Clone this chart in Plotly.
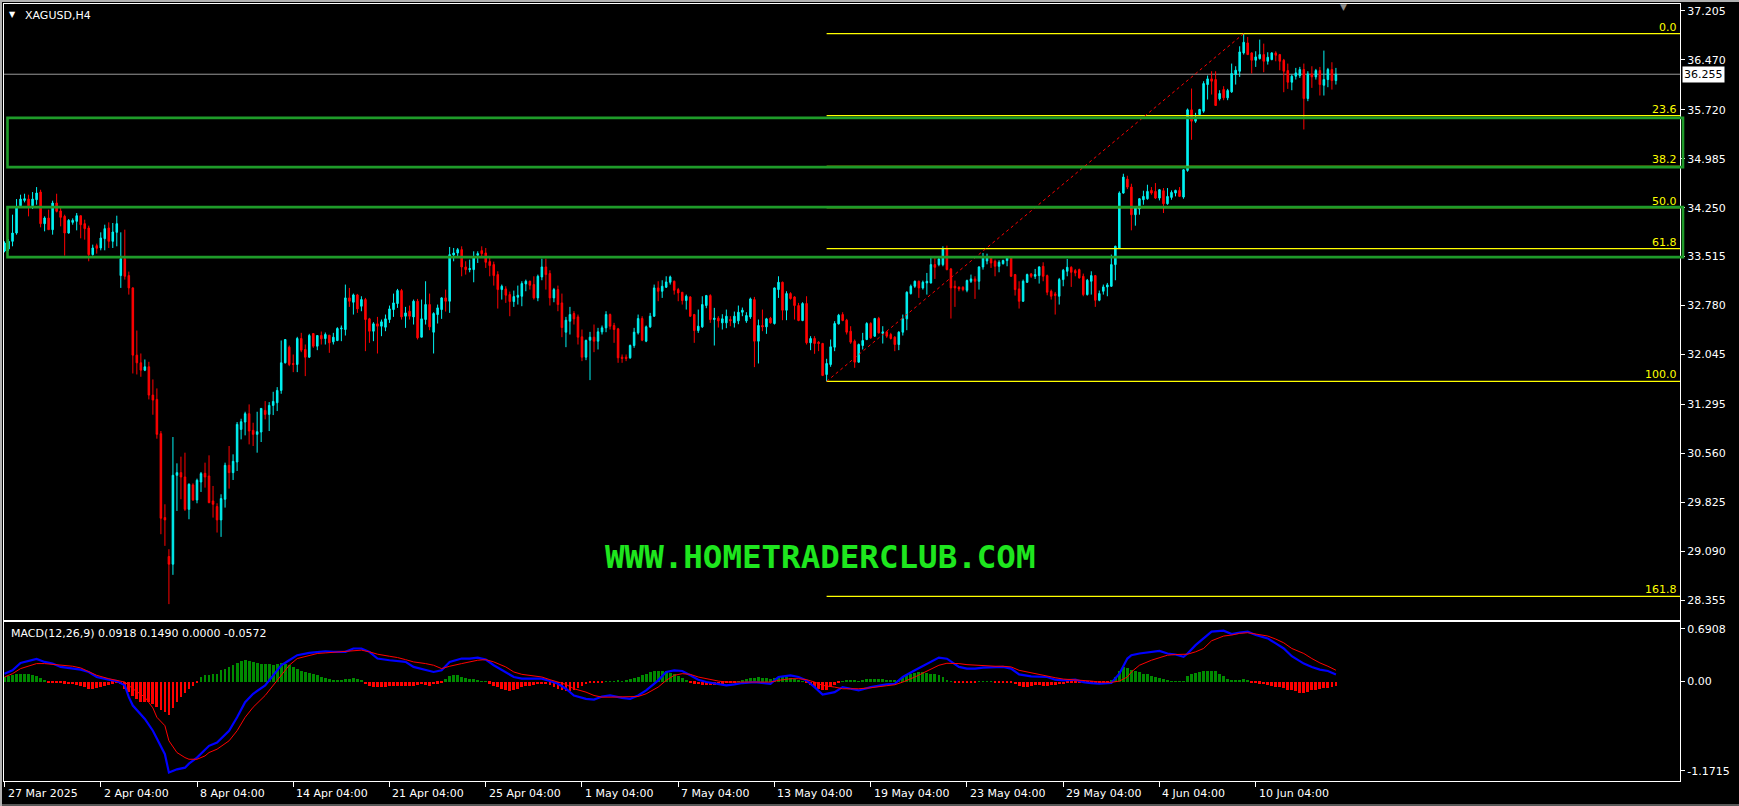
import plotly.graph_objects as go

# ---------------- data (XAGUSD H4) ----------------
opens = [
    33.60, 33.63, 33.745, 33.87, 34.28, 34.36, 34.38, 34.28, 34.37, 34.485,
    34.01, 34.095, 33.92, 34.32, 34.20, 34.12, 33.87, 34.03, 34.045, 34.13,
    34.01, 33.945, 33.545, 33.68, 33.645, 33.785, 33.945, 33.745, 33.88, 33.23,
    33.485, 33.23, 33.045, 32.035, 31.92, 31.81, 31.86, 31.435, 31.37, 30.855,
    29.595, 29.01, 28.895, 30.23, 30.27, 30.205, 29.72, 30.085, 29.86, 30.13,
    30.26, 30.22, 29.845, 29.76, 29.56, 29.87, 30.38, 30.27, 30.43, 30.92,
    31.03, 31.155, 30.905, 30.845, 30.88, 31.205, 31.145, 31.28, 31.32, 31.505,
    31.92, 32.155, 31.91, 31.895, 32.285, 32.12, 32.005, 32.36, 32.17, 32.33,
    32.285, 32.335, 32.235, 32.255, 32.43, 32.42, 32.895, 32.83, 32.94, 32.77,
    32.87, 32.58, 32.395, 32.505, 32.47, 32.455, 32.57, 32.72, 32.81, 33.005,
    32.62, 32.695, 32.61, 32.845, 32.305, 32.57, 32.795, 32.38, 32.645, 32.72,
    32.895, 32.845, 33.54, 33.57, 33.62, 33.36, 33.32, 33.32, 33.535, 33.605,
    33.57, 33.44, 33.395, 33.245, 33.02, 33.03, 32.945, 32.84, 32.905, 32.92,
    33.105, 33.145, 33.095, 32.895, 33.21, 33.36, 33.26, 32.895, 33.02, 32.82,
    32.38, 32.545, 32.66, 32.61, 32.31, 32.005, 32.26, 32.305, 32.245, 32.385,
    32.445, 32.645, 32.48, 32.43, 32.005, 32.005, 31.995, 32.18, 32.37, 32.585,
    32.245, 32.46, 32.62, 33.045, 32.995, 33.055, 33.13, 33.145, 33.02, 32.98,
    32.855, 32.91, 32.645, 32.405, 32.46, 32.78, 32.93, 32.57, 32.59, 32.52,
    32.52, 32.57, 32.52, 32.55, 32.68, 32.55, 32.61, 32.87, 32.245, 32.48,
    32.46, 32.59, 32.51, 33.02, 33.13, 32.71, 32.96, 32.91, 32.78, 32.555,
    32.81, 32.22, 32.285, 32.23, 32.21, 31.745, 31.895, 32.155, 32.505, 32.645,
    32.56, 32.395, 32.245, 31.93, 32.18, 32.27, 32.51, 32.32, 32.585, 32.36,
    32.385, 32.345, 32.305, 32.195, 32.38, 32.58, 32.96, 33.07, 33.145, 33.045,
    33.12, 33.12, 33.395, 33.395, 33.395, 33.63, 33.33, 33.07, 33.055, 33.055,
    33.01, 33.145, 33.18, 33.145, 33.36, 33.45, 33.495, 33.445, 33.37, 33.41,
    33.455, 33.495, 33.245, 33.03, 32.845, 33.13, 33.255, 33.22, 33.23, 33.37,
    33.23, 32.995, 32.955, 32.92, 33.17, 33.295, 33.355, 33.305, 33.32, 33.22,
    32.945, 33.145, 33.23, 32.86, 32.995, 33.06, 33.07, 33.395, 33.645, 34.47,
    34.68, 34.56, 34.145, 34.23, 34.37, 34.385, 34.51, 34.495, 34.395, 34.505,
    34.31, 34.405, 34.47, 34.51, 34.41, 34.81, 35.72, 35.55, 35.65, 35.70,
    36.10, 36.185, 36.175, 35.885, 36.025, 35.90, 35.99, 36.25, 36.30, 36.575,
    36.725, 36.575, 36.465, 36.49, 36.55, 36.45, 36.475, 36.575, 36.55, 36.465,
    36.31, 36.135, 36.225, 36.235, 36.325, 35.89, 36.26, 36.215, 36.31, 36.09,
    36.175, 36.325, 36.16,
]
highs = [
    33.745, 33.78, 34.145, 34.38, 34.445, 34.46, 34.445, 34.485, 34.56, 34.52,
    34.12, 34.22, 34.355, 34.46, 34.245, 34.145, 34.08, 34.09, 34.17, 34.13,
    34.07, 33.98, 33.695, 33.71, 33.88, 33.995, 34.03, 34.02, 34.13, 33.88,
    33.92, 33.29, 33.055, 32.405, 32.06, 31.97, 31.935, 31.67, 31.535, 30.895,
    29.795, 29.12, 30.805, 30.41, 30.51, 30.57, 30.11, 30.11, 30.18, 30.28,
    30.42, 30.53, 30.07, 29.81, 29.945, 30.42, 30.67, 30.545, 31.03, 31.08,
    31.185, 31.295, 31.02, 31.185, 31.235, 31.345, 31.33, 31.485, 31.555, 32.255,
    32.27, 32.18, 32.045, 32.31, 32.37, 32.195, 32.355, 32.36, 32.33, 32.39,
    32.375, 32.335, 32.37, 32.455, 32.48, 33.095, 33.045, 32.96, 32.955, 32.92,
    32.895, 32.595, 32.53, 32.61, 32.57, 32.645, 32.78, 32.96, 33.03, 33.03,
    32.76, 32.78, 32.87, 32.88, 32.87, 33.145, 32.96, 32.68, 32.795, 32.905,
    33.02, 33.66, 33.645, 33.645, 33.67, 33.445, 33.47, 33.595, 33.595, 33.67,
    33.645, 33.495, 33.44, 33.295, 33.095, 33.07, 32.99, 33.005, 33.08, 33.145,
    33.17, 33.155, 33.22, 33.245, 33.485, 33.485, 33.31, 33.045, 33.08, 32.96,
    32.61, 32.76, 32.695, 32.645, 32.42, 32.27, 32.385, 32.495, 32.445, 32.48,
    32.695, 32.66, 32.52, 32.445, 32.045, 32.045, 32.195, 32.445, 32.645, 32.62,
    32.48, 32.67, 33.095, 33.145, 33.16, 33.22, 33.23, 33.155, 33.045, 32.98,
    32.945, 32.92, 32.655, 32.72, 32.92, 32.94, 32.95, 32.745, 32.62, 32.65,
    32.72, 32.62, 32.69, 32.78, 32.75, 32.68, 32.90, 32.91, 32.57, 32.72,
    32.595, 32.61, 33.05, 33.22, 33.14, 32.995, 32.98, 32.92, 32.82, 32.83,
    32.92, 32.32, 32.32, 32.245, 32.22, 31.98, 32.27, 32.545, 32.655, 32.68,
    32.58, 32.47, 32.27, 32.21, 32.37, 32.53, 32.53, 32.595, 32.61, 32.47,
    32.395, 32.37, 32.32, 32.395, 32.645, 32.995, 33.095, 33.155, 33.155, 33.155,
    33.27, 33.495, 33.51, 33.495, 33.67, 33.68, 33.345, 33.155, 33.07, 33.07,
    33.17, 33.245, 33.22, 33.37, 33.57, 33.56, 33.495, 33.47, 33.46, 33.47,
    33.505, 33.505, 33.255, 33.145, 33.17, 33.26, 33.27, 33.33, 33.37, 33.43,
    33.245, 33.02, 32.985, 33.195, 33.33, 33.48, 33.37, 33.33, 33.335, 33.26,
    33.18, 33.295, 33.24, 33.005, 33.095, 33.12, 33.545, 33.68, 34.495, 34.76,
    34.73, 34.61, 34.255, 34.395, 34.505, 34.595, 34.56, 34.62, 34.53, 34.545,
    34.545, 34.51, 34.52, 34.56, 34.83, 35.74, 36.04, 35.675, 35.735, 36.15,
    36.235, 36.30, 36.30, 36.015, 36.075, 36.035, 36.415, 36.375, 36.675, 36.865,
    36.815, 36.585, 36.60, 36.775, 36.715, 36.585, 36.585, 36.60, 36.56, 36.485,
    36.415, 36.25, 36.35, 36.365, 36.415, 36.30, 36.375, 36.335, 36.365, 36.61,
    36.35, 36.435, 36.35,
]
lows = [
    33.58, 33.60, 33.67, 33.845, 34.27, 34.33, 34.12, 34.23, 34.295, 33.955,
    33.895, 33.92, 33.845, 34.18, 33.97, 33.53, 33.86, 33.995, 33.91, 33.79,
    33.77, 33.445, 33.53, 33.56, 33.61, 33.61, 33.645, 33.645, 33.67, 33.045,
    33.17, 32.945, 31.76, 31.745, 31.71, 31.795, 31.37, 31.14, 30.78, 29.345,
    29.17, 28.295, 28.735, 29.695, 29.87, 29.695, 29.57, 29.845, 29.81, 29.98,
    30.045, 29.81, 29.595, 29.37, 29.305, 29.745, 30.03, 30.16, 30.295, 30.77,
    30.83, 30.695, 30.67, 30.57, 30.73, 31.07, 30.895, 31.135, 31.195, 31.455,
    31.91, 31.87, 31.78, 31.78, 32.08, 31.72, 31.995, 32.145, 32.11, 32.195,
    32.195, 32.07, 32.195, 32.245, 32.245, 32.33, 32.76, 32.645, 32.67, 32.695,
    32.095, 32.22, 32.245, 32.06, 32.32, 32.395, 32.52, 32.61, 32.745, 32.57,
    32.445, 32.57, 32.495, 32.27, 32.305, 32.495, 32.41, 32.06, 32.51, 32.58,
    32.69, 32.67, 33.445, 33.52, 33.22, 33.245, 33.28, 33.13, 33.42, 33.51,
    33.345, 33.22, 33.08, 32.735, 32.87, 32.82, 32.62, 32.76, 32.795, 32.77,
    32.995, 33.02, 32.87, 32.845, 33.16, 33.02, 32.78, 32.83, 32.695, 32.305,
    32.155, 32.345, 32.495, 32.195, 31.945, 31.96, 31.66, 32.08, 32.12, 32.345,
    32.38, 32.42, 32.22, 31.92, 31.92, 31.945, 31.98, 32.145, 32.345, 32.245,
    32.23, 32.445, 32.61, 32.845, 32.895, 33.045, 33.095, 32.945, 32.845, 32.795,
    32.72, 32.61, 32.22, 32.37, 32.445, 32.74, 32.52, 32.18, 32.45, 32.42,
    32.44, 32.47, 32.45, 32.50, 32.62, 32.52, 32.58, 31.855, 31.91, 32.395,
    32.355, 32.51, 32.495, 32.895, 32.56, 32.56, 32.87, 32.57, 32.545, 32.545,
    32.195, 32.11, 32.055, 32.095, 31.72, 31.641, 31.86, 32.095, 32.495, 32.545,
    32.345, 32.205, 31.845, 31.92, 32.12, 32.26, 32.28, 32.31, 32.36, 32.21,
    32.295, 32.27, 32.095, 32.11, 32.33, 32.41, 32.945, 33.045, 32.895, 33.02,
    32.945, 33.11, 33.18, 33.37, 33.37, 33.31, 32.585, 32.76, 32.995, 32.995,
    32.98, 33.12, 32.88, 33.02, 33.32, 33.40, 33.345, 33.22, 33.28, 33.395,
    33.37, 33.21, 32.93, 32.735, 32.835, 33.12, 33.195, 33.18, 33.11, 33.145,
    32.935, 32.87, 32.645, 32.795, 33.07, 33.22, 33.06, 33.22, 33.185, 32.92,
    32.93, 32.945, 32.76, 32.845, 32.945, 32.92, 33.06, 33.16, 33.645, 34.46,
    34.53, 33.91, 33.98, 34.145, 34.295, 34.37, 34.445, 34.38, 34.36, 34.17,
    34.295, 34.37, 34.42, 34.41, 34.385, 34.79, 35.27, 35.525, 35.635, 35.675,
    35.875, 35.95, 35.785, 35.86, 35.865, 35.865, 35.975, 36.10, 36.215, 36.55,
    36.55, 36.265, 36.365, 36.475, 36.285, 36.40, 36.465, 36.45, 36.315, 35.985,
    36.035, 36.015, 36.175, 36.20, 35.425, 35.85, 36.05, 36.175, 35.935, 35.935,
    36.06, 36.025, 36.10,
]
closes = [
    33.72, 33.745, 33.87, 34.245, 34.38, 34.385, 34.28, 34.38, 34.47, 34.01,
    34.095, 33.92, 34.32, 34.195, 34.105, 33.87, 34.06, 34.06, 34.13, 33.995,
    33.935, 33.545, 33.645, 33.64, 33.795, 33.935, 33.745, 33.885, 34.01, 33.485,
    33.22, 33.045, 32.035, 31.92, 31.81, 31.86, 31.435, 31.36, 30.845, 29.585,
    29.56, 28.895, 30.23, 30.27, 30.205, 29.72, 30.095, 29.86, 30.155, 30.255,
    30.205, 29.82, 29.795, 29.56, 29.88, 30.38, 30.27, 30.44, 30.995, 31.035,
    31.155, 30.895, 30.845, 30.885, 31.235, 31.145, 31.28, 31.34, 31.505, 31.92,
    32.27, 31.895, 31.895, 32.285, 32.11, 32.005, 32.33, 32.17, 32.33, 32.28,
    32.345, 32.22, 32.305, 32.435, 32.44, 32.895, 32.845, 32.94, 32.73, 32.87,
    32.57, 32.395, 32.505, 32.47, 32.535, 32.58, 32.73, 32.82, 33.005, 32.61,
    32.67, 32.62, 32.845, 32.295, 32.58, 32.795, 32.46, 32.66, 32.745, 32.895,
    32.845, 33.545, 33.57, 33.62, 33.36, 33.32, 33.335, 33.495, 33.56, 33.56,
    33.43, 33.38, 33.23, 33.02, 33.07, 32.935, 32.84, 32.915, 32.935, 33.11,
    33.145, 33.085, 32.895, 33.22, 33.36, 33.245, 32.895, 33.02, 32.795, 32.45,
    32.56, 32.645, 32.58, 32.305, 32.005, 32.255, 32.305, 32.245, 32.385, 32.445,
    32.645, 32.47, 32.42, 31.995, 31.985, 31.985, 32.18, 32.38, 32.585, 32.26,
    32.46, 32.62, 33.045, 32.995, 33.07, 33.135, 33.21, 33.01, 32.97, 32.855,
    32.92, 32.62, 32.405, 32.47, 32.795, 32.93, 32.57, 32.59, 32.55, 32.58,
    32.62, 32.55, 32.62, 32.68, 32.71, 32.63, 32.88, 32.245, 32.48, 32.46,
    32.58, 32.52, 33.045, 33.13, 32.71, 32.96, 32.885, 32.78, 32.555, 32.81,
    32.22, 32.285, 32.21, 32.21, 31.73, 31.91, 32.16, 32.51, 32.635, 32.555,
    32.38, 32.23, 31.93, 32.195, 32.255, 32.51, 32.295, 32.585, 32.37, 32.385,
    32.32, 32.285, 32.195, 32.38, 32.58, 32.98, 33.07, 33.145, 33.045, 33.13,
    33.145, 33.395, 33.355, 33.48, 33.63, 33.32, 33.045, 33.045, 33.03, 33.02,
    33.155, 33.18, 33.145, 33.36, 33.51, 33.50, 33.42, 33.37, 33.43, 33.455,
    33.495, 33.22, 33.02, 32.845, 33.145, 33.245, 33.22, 33.245, 33.36, 33.22,
    32.98, 32.92, 32.93, 33.17, 33.31, 33.355, 33.28, 33.27, 33.195, 32.945,
    33.16, 33.23, 32.86, 32.96, 33.06, 33.09, 33.395, 33.67, 34.47, 34.71,
    34.56, 34.145, 34.245, 34.385, 34.42, 34.495, 34.47, 34.395, 34.52, 34.31,
    34.42, 34.48, 34.51, 34.42, 34.82, 35.72, 35.55, 35.60, 35.725, 36.115,
    36.185, 36.15, 35.785, 35.965, 35.90, 36.01, 36.265, 36.315, 36.59, 36.735,
    36.55, 36.465, 36.515, 36.55, 36.45, 36.51, 36.575, 36.54, 36.45, 36.30,
    36.135, 36.225, 36.275, 36.325, 35.89, 36.26, 36.215, 36.31, 36.10, 36.175,
    36.325, 36.16, 36.255,
]

# MACD(12,26,9): main / signal read at these bars, histogram per bar
macd_bars = [
    0, 2, 4, 7, 8, 10, 12, 14, 17, 19, 21, 23, 26, 28, 30, 31, 32, 35, 37, 38,
    40, 41, 43, 45, 46, 48, 50, 51, 53, 56, 58, 60, 62, 65, 67, 69, 71, 73, 76, 78,
    80, 82, 85, 87, 89, 91, 93, 96, 98, 100, 102, 105, 107, 109, 111, 114, 116, 118, 120, 122,
    125, 127, 129, 131, 134, 136, 138, 140, 142, 145, 147, 149, 151, 154, 156, 158, 160, 163, 165, 167,
    169, 171, 173, 175, 178, 180, 182, 184, 187, 189, 191, 193, 196, 198, 200, 202, 204, 207, 209, 211,
    213, 216, 218, 220, 222, 224, 227, 229, 231, 233, 235, 238, 240, 242, 244, 247, 249, 251, 253, 256,
    258, 260, 262, 264, 267, 269, 271, 273, 276, 278, 280, 281, 283, 286, 288, 290, 292, 294, 295, 297,
    299, 301, 304, 306, 308, 310, 312, 315, 317, 319, 321, 324, 326, 328, 330, 332,
]
macd_main = [
    0.104, 0.148, 0.245, 0.280, 0.297, 0.258, 0.236, 0.192, 0.170, 0.157, 0.126, 0.060, 0.025, 0.007, -0.050, -0.204, -0.314, -0.490, -0.644, -0.754,
    -0.952, -1.193, -1.150, -1.128, -1.075, -0.996, -0.886, -0.842, -0.798, -0.644, -0.468, -0.270, -0.160, -0.050, 0.082, 0.214, 0.280, 0.346, 0.376, 0.390,
    0.398, 0.390, 0.390, 0.434, 0.434, 0.390, 0.302, 0.280, 0.271, 0.258, 0.192, 0.148, 0.126, 0.148, 0.258, 0.302, 0.302, 0.315, 0.288, 0.214,
    0.126, 0.060, 0.038, 0.038, 0.038, 0.007, -0.029, -0.094, -0.182, -0.226, -0.235, -0.195, -0.182, -0.213, -0.226, -0.182, -0.116, 0.016, 0.126, 0.148,
    0.139, 0.082, 0.025, -0.006, -0.029, -0.050, -0.037, -0.019, -0.006, -0.019, -0.029, 0.060, 0.082, 0.060, 0.016, -0.072, -0.169, -0.138, -0.072, -0.094,
    -0.116, -0.072, -0.050, -0.037, -0.029, 0.060, 0.148, 0.201, 0.258, 0.315, 0.300, 0.192, 0.170, 0.170, 0.183, 0.192, 0.192, 0.170, 0.095, 0.069,
    0.069, 0.060, 0.025, 0.016, 0.025, -0.006, -0.019, -0.028, -0.019, 0.104, 0.302, 0.346, 0.368, 0.390, 0.403, 0.368, 0.355, 0.324, 0.368, 0.478,
    0.566, 0.654, 0.667, 0.623, 0.641, 0.654, 0.610, 0.566, 0.500, 0.434, 0.333, 0.236, 0.192, 0.157, 0.139, 0.0918,
]
macd_signal = [
    0.060, 0.104, 0.170, 0.214, 0.236, 0.236, 0.227, 0.214, 0.201, 0.179, 0.126, 0.082, 0.038, 0.016, -0.006, -0.050, -0.094, -0.204, -0.345, -0.468,
    -0.578, -0.776, -0.930, -0.996, -1.018, -1.018, -0.974, -0.930, -0.886, -0.776, -0.644, -0.468, -0.336, -0.182, -0.050, 0.082, 0.214, 0.302, 0.346, 0.368,
    0.376, 0.385, 0.390, 0.403, 0.412, 0.390, 0.359, 0.332, 0.315, 0.288, 0.258, 0.236, 0.214, 0.170, 0.201, 0.236, 0.258, 0.280, 0.288, 0.258,
    0.192, 0.126, 0.095, 0.082, 0.060, 0.025, -0.006, -0.037, -0.094, -0.138, -0.182, -0.204, -0.204, -0.204, -0.204, -0.195, -0.160, -0.072, 0.016, 0.082,
    0.104, 0.095, 0.060, 0.038, 0.007, -0.006, -0.006, -0.006, -0.006, -0.006, -0.006, 0.016, 0.038, 0.038, 0.025, -0.006, -0.050, -0.072, -0.094, -0.094,
    -0.094, -0.081, -0.063, -0.054, -0.041, -0.006, 0.060, 0.113, 0.170, 0.214, 0.240, 0.236, 0.222, 0.214, 0.205, 0.201, 0.201, 0.192, 0.148, 0.113,
    0.095, 0.069, 0.051, 0.033, 0.025, 0.016, 0.007, -0.006, -0.010, 0.007, 0.060, 0.126, 0.214, 0.280, 0.315, 0.346, 0.355, 0.355, 0.359, 0.390,
    0.434, 0.535, 0.597, 0.610, 0.632, 0.641, 0.623, 0.597, 0.557, 0.508, 0.434, 0.368, 0.302, 0.245, 0.201, 0.1490,
]
macd_hist = [
    0.06, 0.08, 0.095, 0.10, 0.11, 0.11, 0.10, 0.09, 0.08, 0.05,
    0.025, -0.006, -0.015, -0.02, -0.02, -0.025, -0.03, -0.03, -0.04, -0.055,
    -0.065, -0.09, -0.095, -0.075, -0.07, -0.055, -0.04, -0.025, -0.015, -0.03,
    -0.095, -0.135, -0.18, -0.225, -0.265, -0.27, -0.27, -0.285, -0.325, -0.365,
    -0.40, -0.43, -0.345, -0.26, -0.195, -0.14, -0.09, -0.055, -0.015, 0.06,
    0.095, 0.095, 0.105, 0.11, 0.15, 0.17, 0.19, 0.22, 0.25, 0.28,
    0.29, 0.275, 0.26, 0.25, 0.24, 0.235, 0.23, 0.22, 0.23, 0.245,
    0.235, 0.215, 0.195, 0.165, 0.145, 0.13, 0.115, 0.10, 0.085, 0.07,
    0.05, 0.04, 0.02, 0.012, 0.02, 0.035, 0.04, 0.045, 0.04, 0.025,
    -0.03, -0.05, -0.065, -0.07, -0.07, -0.065, -0.06, -0.05, -0.05, -0.05,
    -0.05, -0.05, -0.05, -0.04, -0.03, -0.045, -0.05, -0.03, -0.025, -0.005,
    0.04, 0.075, 0.095, 0.085, 0.07, 0.055, 0.04, 0.04, 0.03, 0.01,
    0.005, -0.025, -0.05, -0.065, -0.09, -0.105, -0.115, -0.105, -0.095, -0.07,
    -0.05, -0.05, -0.04, -0.03, -0.03, -0.03, -0.045, -0.07, -0.09, -0.11,
    -0.125, -0.115, -0.10, -0.075, -0.055, -0.03, -0.015, -0.01, -0.005, -0.01,
    0.007, 0.007, 0.01, 0.015, 0.007, 0.025, 0.035, 0.045, 0.065, 0.09,
    0.11, 0.125, 0.145, 0.148, 0.148, 0.14, 0.12, 0.10, 0.078, 0.05,
    0.03, -0.01, -0.025, -0.03, -0.04, -0.045, -0.045, -0.04, -0.03, -0.025,
    -0.015, -0.01, -0.005, 0.01, 0.025, 0.035, 0.045, 0.055, 0.06, 0.055,
    0.045, 0.04, 0.05, 0.07, 0.07, 0.06, 0.05, 0.04, 0.025, 0.007,
    -0.015, -0.04, -0.065, -0.09, -0.105, -0.10, -0.07, -0.04, -0.015, 0.01,
    0.02, 0.025, 0.015, 0.01, 0.025, 0.035, 0.035, 0.04, 0.035, 0.035,
    0.03, 0.025, 0.015, 0.03, 0.07, 0.095, 0.11, 0.12, 0.125, 0.125,
    0.12, 0.11, 0.10, 0.09, 0.06, 0.025, 0.002, -0.006, -0.01, -0.01,
    -0.006, -0.006, -0.002, 0.002, 0.002, 0.007, 0.002, -0.002, -0.006, -0.006,
    -0.01, -0.01, -0.03, -0.06, -0.07, -0.065, -0.055, -0.045, -0.04, -0.05,
    -0.055, -0.045, -0.037, -0.03, -0.03, -0.015, -0.01, -0.01, -0.01, -0.01,
    -0.015, -0.01, -0.015, -0.02, -0.015, -0.01, 0.015, 0.07, 0.14, 0.19,
    0.18, 0.155, 0.14, 0.125, 0.11, 0.10, 0.08, 0.065, 0.05, 0.035,
    0.02, 0.01, 0.002, 0.002, 0.007, 0.075, 0.10, 0.115, 0.125, 0.14,
    0.148, 0.148, 0.14, 0.11, 0.075, 0.04, 0.02, 0.015, 0.025, 0.035,
    0.015, -0.006, -0.015, -0.025, -0.03, -0.04, -0.055, -0.065, -0.07, -0.085,
    -0.10, -0.11, -0.125, -0.145, -0.15, -0.13, -0.11, -0.10, -0.095, -0.085,
    -0.08, -0.07, -0.0572,
]

price_ticks = [37.205, 36.470, 35.720, 34.985, 34.250, 33.515, 32.780,
               32.045, 31.295, 30.560, 29.825, 29.090, 28.355]
macd_ticks = [0.6908, 0.0, -1.1715]
macd_tick_text = ["0.6908", "0.00", "-1.1715"]
date_ticks = [0, 24, 48, 72, 96, 120, 144, 168, 192, 216, 240, 264, 288, 312]
date_labels = ["27 Mar 2025", "2 Apr 04:00", "8 Apr 04:00", "14 Apr 04:00",
               "21 Apr 04:00", "25 Apr 04:00", "1 May 04:00", "7 May 04:00",
               "13 May 04:00", "19 May 04:00", "23 May 04:00", "29 May 04:00",
               "4 Jun 04:00", "10 Jun 04:00"]

fib_levels = [0.0, 23.6, 38.2, 50.0, 61.8, 100.0, 161.8]
fib_low, fib_high = 31.641, 36.865
fib_low_bar, fib_high_bar = 205, 309
zones = [(34.860, 35.600), (33.507, 34.258)]
last_price = 36.255

n = len(closes)
assert len(opens) == n and len(highs) == n and len(lows) == n and len(macd_hist) == n
assert len(macd_bars) == len(macd_main) == len(macd_signal)
bars = list(range(n))

# ---------------- styling ----------------
W, H = 1739, 806
ML, MR, MT, MB = 4, 59, 4, 25
PW, PH = W - ML - MR, H - MT - MB
X_RANGE = [-0.125, 417.8]
CYAN, RED, BLUE = "#00f2f2", "#ff0000", "#0000ff"
HIST_GREEN, ZONE_GREEN, FIB_YELLOW = "#008a00", "#1f9b2a", "#ffff00"
FONT = "DejaVu Sans"


def px_x(px):
    return (px - ML) / PW


def px_y(py):
    return (H - MB - py) / PH


fig = go.Figure()
fig.add_trace(go.Candlestick(
    x=bars, open=opens, high=highs, low=lows, close=closes,
    increasing=dict(line=dict(color=CYAN, width=1), fillcolor=CYAN),
    decreasing=dict(line=dict(color=RED, width=1), fillcolor=RED),
    xaxis="x", yaxis="y", hoverinfo="skip", showlegend=False))
fig.add_trace(go.Bar(
    x=bars, y=macd_hist, width=0.7,
    marker=dict(color=[HIST_GREEN if v >= 0 else RED for v in macd_hist], line_width=0),
    xaxis="x2", yaxis="y2", hoverinfo="skip", showlegend=False))
fig.add_trace(go.Scatter(x=macd_bars, y=macd_main, mode="lines",
                         line=dict(color=BLUE, width=2.2), xaxis="x2", yaxis="y2",
                         hoverinfo="skip", showlegend=False))
fig.add_trace(go.Scatter(x=macd_bars, y=macd_signal, mode="lines",
                         line=dict(color=RED, width=1), xaxis="x2", yaxis="y2",
                         hoverinfo="skip", showlegend=False))

shapes = []
# current price line (behind candles)
shapes.append(dict(type="line", xref="paper", yref="y", x0=0, x1=1, y0=last_price, y1=last_price,
                   line=dict(color="#9a9a9a", width=1), layer="below"))
# fibonacci levels + trend line
for lvl in fib_levels:
    p = fib_high - lvl / 100 * (fib_high - fib_low)
    shapes.append(dict(type="line", xref="x", yref="y", x0=fib_low_bar, x1=X_RANGE[1], y0=p, y1=p,
                       line=dict(color=FIB_YELLOW, width=1.3)))
shapes.append(dict(type="line", xref="x", yref="y", x0=fib_low_bar, x1=fib_high_bar,
                   y0=fib_low, y1=fib_high, line=dict(color=RED, width=1, dash="3px,3px")))
# green zones
for lo, hi in zones:
    shapes.append(dict(type="rect", xref="paper", yref="y", x0=px_x(7.5), x1=px_x(1683),
                       y0=lo, y1=hi, line=dict(color=ZONE_GREEN, width=2.6)))
# window frame
shapes.append(dict(type="line", xref="paper", yref="paper", x0=px_x(0), x1=px_x(W), y0=px_y(1), y1=px_y(1),
                   line=dict(color="#b0b0b0", width=2)))
shapes.append(dict(type="line", xref="paper", yref="paper", x0=px_x(1), x1=px_x(1), y0=px_y(0), y1=px_y(H),
                   line=dict(color="#b0b0b0", width=2)))
shapes.append(dict(type="line", xref="paper", yref="paper", x0=px_x(0), x1=px_x(W), y0=px_y(805), y1=px_y(805),
                   line=dict(color="#b0b0b0", width=1)))

ann = []
for lvl in fib_levels:
    p = fib_high - lvl / 100 * (fib_high - fib_low)
    ann.append(dict(x=1, xref="paper", xanchor="right", xshift=-1, y=p, yref="y", yanchor="bottom",
                    yshift=-2, text=f"{lvl:.1f}", showarrow=False,
                    font=dict(family=FONT, size=11, color=FIB_YELLOW)))
ann.append(dict(x=1, xref="paper", xanchor="left", xshift=2, y=last_price, yref="y", yanchor="middle",
                text=f"{last_price:.3f}", showarrow=False, bgcolor="#ffffff", borderpad=1,
                font=dict(family=FONT, size=11, color="#000000")))
for t, lab in zip(date_ticks, date_labels):
    ann.append(dict(x=t, xref="x2", xanchor="left", xshift=1, y=px_y(793), yref="paper",
                    yanchor="middle", text=lab, showarrow=False,
                    font=dict(family=FONT, size=11, color="#ffffff")))
ann.append(dict(x=px_x(23), xref="paper", xanchor="left", y=px_y(15), yref="paper", yanchor="middle",
                text="XAGUSD,H4", showarrow=False, font=dict(family=FONT, size=11, color="#ffffff")))
ann.append(dict(x=px_x(12.5), xref="paper", xanchor="center", y=px_y(14), yref="paper", yanchor="middle",
                text="▼", showarrow=False, font=dict(family=FONT, size=8, color="#ffffff")))
ann.append(dict(x=px_x(1343), xref="paper", xanchor="center", y=px_y(7), yref="paper", yanchor="middle",
                text="▼", showarrow=False, font=dict(family=FONT, size=9, color="#8a8a8a")))
ann.append(dict(x=px_x(9), xref="paper", xanchor="left", y=px_y(633.5), yref="paper", yanchor="middle",
                text="MACD(12,26,9) 0.0918 0.1490 0.0000 -0.0572", showarrow=False,
                font=dict(family=FONT, size=11, color="#ffffff")))
ann.append(dict(x=px_x(820), xref="paper", xanchor="center", y=px_y(557), yref="paper", yanchor="middle",
                text="<b>WWW.HOMETRADERCLUB.COM</b>", showarrow=False,
                font=dict(family="DejaVu Sans Mono", size=32.5, color="#1ee61e")))

axis_common = dict(showgrid=False, zeroline=False, showline=True, mirror=True,
                   linecolor="#ffffff", linewidth=1)
fig.update_layout(
    width=W, height=H, margin=dict(l=ML, r=MR, t=MT, b=MB, pad=0),
    paper_bgcolor="#000000", plot_bgcolor="#000000",
    showlegend=False, hovermode=False, boxgap=0.45, bargap=0,
    font=dict(family=FONT, size=11, color="#ffffff"),
    xaxis=dict(domain=[0, 1], anchor="y", range=X_RANGE, showticklabels=False, ticks="",
               rangeslider=dict(visible=False), **axis_common),
    yaxis=dict(domain=[px_y(619.5), 1], anchor="x", range=[28.064, 37.310], side="right",
               tickvals=price_ticks, ticktext=[f"{v:.3f}" for v in price_ticks],
               ticks="outside", ticklen=4, tickcolor="#ffffff",
               tickfont=dict(family=FONT, size=11, color="#ffffff"), **axis_common),
    xaxis2=dict(domain=[0, 1], anchor="y2", range=X_RANGE, matches="x",
                tickvals=date_ticks, ticktext=[""] * len(date_ticks),
                ticks="outside", ticklen=5, tickcolor="#ffffff", **axis_common),
    yaxis2=dict(domain=[0, px_y(621.7)], anchor="x2", range=[-1.303, 0.785], side="right",
                tickvals=macd_ticks, ticktext=macd_tick_text,
                ticks="outside", ticklen=4, tickcolor="#ffffff",
                tickfont=dict(family=FONT, size=11, color="#ffffff"), **axis_common),
    shapes=shapes, annotations=ann,
)

fig.write_html("out.html", config={"displayModeBar": False},
               post_script="document.body.style.margin='0';document.body.style.overflow='hidden';")
